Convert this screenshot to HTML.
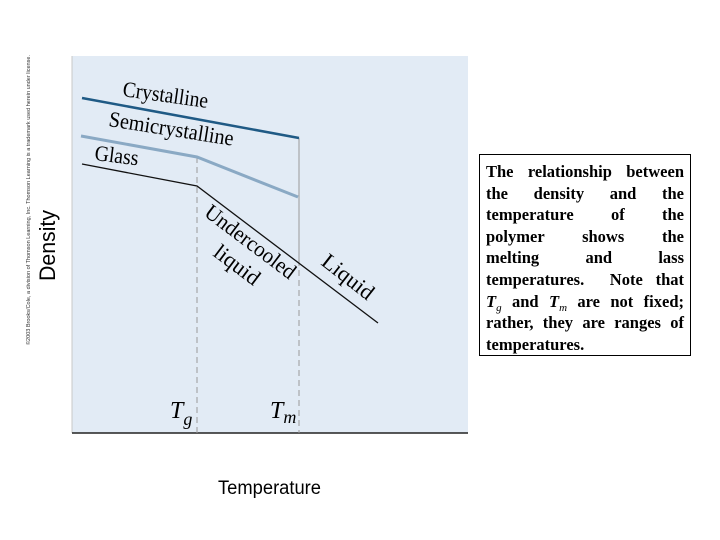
<!DOCTYPE html>
<html><head><meta charset="utf-8"><style>
body{margin:0;width:720px;height:540px;background:#fff;position:relative;overflow:hidden}
.box{position:absolute;left:479px;top:154px;width:198px;height:188px;border:1px solid #000;padding:6px 6px;font-family:"Liberation Serif",serif;font-weight:bold;font-size:16.5px;line-height:21.6px;color:#000}
.l{text-align:justify;text-align-last:justify;white-space:nowrap;height:21.6px}
.s{font-weight:normal;font-size:11px;position:relative;top:4px}
</style></head><body>
<svg width="720" height="540" style="position:absolute;left:0;top:0" font-family="Liberation Serif, serif">
<rect x="72" y="56" width="396" height="377" fill="#e2ebf5"/>
<line x1="72" y1="56" x2="72" y2="433" stroke="#c8c8c8" stroke-width="1"/>
<line x1="72" y1="433" x2="468" y2="433" stroke="#222" stroke-width="1.5"/>
<line x1="197" y1="157" x2="197" y2="433" stroke="#999" stroke-width="1" stroke-dasharray="6,4"/>
<line x1="299" y1="138" x2="299" y2="260" stroke="#999" stroke-width="1"/>
<line x1="299" y1="260" x2="299" y2="433" stroke="#999" stroke-width="1" stroke-dasharray="6,4"/>
<polyline points="82,98 299,138" stroke="#1f5a85" stroke-width="2.5" fill="none"/>
<polyline points="81,136 197,157 298,197" stroke="#8aa9c4" stroke-width="3" fill="none"/>
<polyline points="82,164 197,186 378,323" stroke="#111" stroke-width="1.3" fill="none"/>
<text x="122" y="96" font-size="22" textLength="86" lengthAdjust="spacingAndGlyphs" transform="rotate(8 122 96)">Crystalline</text>
<text x="108" y="126" font-size="22" textLength="126" lengthAdjust="spacingAndGlyphs" transform="rotate(9 108 126)">Semicrystalline</text>
<text x="94" y="160" font-size="22" textLength="44" lengthAdjust="spacingAndGlyphs" transform="rotate(7 94 160)">Glass</text>
<text x="203" y="215" font-size="22" textLength="108" lengthAdjust="spacingAndGlyphs" transform="rotate(37 203 215)">Undercooled</text>
<text x="212" y="255" font-size="22" textLength="52" lengthAdjust="spacingAndGlyphs" transform="rotate(37 212 255)">liquid</text>
<text x="320" y="264" font-size="22" textLength="60" lengthAdjust="spacingAndGlyphs" transform="rotate(38 320 264)">Liquid</text>
<text x="170" y="418" font-size="24" font-style="italic">T<tspan font-size="18" dy="7">g</tspan></text>
<text x="270" y="418" font-size="24" font-style="italic">T<tspan font-size="18" dy="5">m</tspan></text>
<text x="55" y="281" font-size="22" font-family="Liberation Sans, sans-serif" textLength="71" lengthAdjust="spacingAndGlyphs" transform="rotate(-90 55 281)">Density</text>
<text x="218" y="494" font-size="19" font-family="Liberation Sans, sans-serif" textLength="103" lengthAdjust="spacingAndGlyphs">Temperature</text>
<text x="30" y="345" font-size="5.5" font-family="Liberation Sans, sans-serif" fill="#333" transform="rotate(-90 30 345)" textLength="290">©2003 Brooks/Cole, a division of Thomson Learning, Inc.  Thomson Learning is a trademark used herein under license.</text>
</svg>
<div class="box">
<div class="l">The relationship between</div>
<div class="l">the density and the</div>
<div class="l">temperature of the</div>
<div class="l">polymer shows the</div>
<div class="l">melting and lass</div>
<div class="l">temperatures. &nbsp;Note that</div>
<div class="l"><i>T</i><span class="s"><i>g</i></span> and <i>T</i><span class="s"><i>m</i></span> are not fixed;</div>
<div class="l">rather, they are ranges of</div>
<div style="height:21.6px">temperatures.</div>
</div>
</body></html>
